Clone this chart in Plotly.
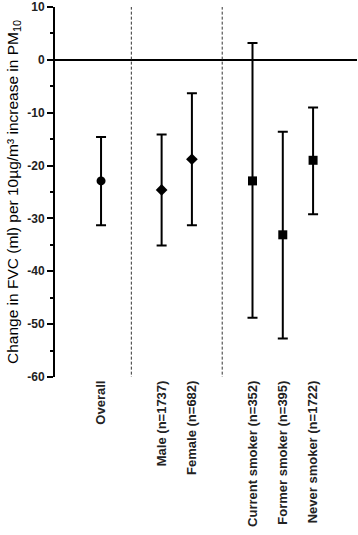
import plotly.graph_objects as go

categories = ["Overall", " ", "Male (n=1737)", "Female (n=682)", "  ",
              "Current smoker (n=352)", "Former smoker (n=395)", "Never smoker (n=1722)"]
groups = ["Overall", "Male (n=1737)", "Female (n=682)",
          "Current smoker (n=352)", "Former smoker (n=395)", "Never smoker (n=1722)"]
estimate = [-22.9, -24.6, -18.8, -22.9, -33.1, -19.0]
upper = [-14.6, -14.1, -6.3, 3.2, -13.6, -9.0]
lower = [-31.3, -35.1, -31.3, -48.8, -52.7, -29.2]
symbols = ["circle", "diamond", "diamond", "square", "square", "square"]
separators = [" ", "  "]
y_ticks = [-60, -50, -40, -30, -20, -10, 0, 10]
y_tick_labels = ["-60", "-50", "-40", "-30", "-20", "-10", "0", "10"]

fig = go.Figure()
fig.add_trace(go.Scatter(
    x=groups, y=estimate, mode="markers",
    marker=dict(symbol=symbols, size=9, color="black"),
    error_y=dict(type="data", symmetric=False,
                 array=[u - e for u, e in zip(upper, estimate)],
                 arrayminus=[e - l for e, l in zip(estimate, lower)],
                 color="black", thickness=2, width=5),
    showlegend=False, cliponaxis=False,
))

for s in separators:
    fig.add_shape(type="line", xref="x", yref="y", x0=s, x1=s, y0=-60.5, y1=10.5,
                  line=dict(color="#333333", width=1, dash="3px,2px"))

fig.update_layout(
    width=358, height=535,
    margin=dict(l=55, r=1, t=7, b=158),
    paper_bgcolor="white", plot_bgcolor="white",
    font=dict(family="Arial, Liberation Sans, sans-serif", color="black"),
    xaxis=dict(type="category", categoryorder="array", categoryarray=categories,
               tickmode="array", tickvals=groups, ticktext=groups,
               range=[-1.52, 8.45], showgrid=False, showline=False, zeroline=False,
               ticks="", tickangle=-90, automargin=False,
               tickfont=dict(size=13, weight="bold", color="#222222")),
    yaxis=dict(range=[-60, 10], tickmode="array", tickvals=y_ticks, ticktext=y_tick_labels,
               showgrid=False, showline=True, automargin=False,
               linecolor="black", linewidth=2, ticks="outside", ticklen=6,
               tickwidth=2, tickcolor="black",
               minor=dict(dtick=5, ticks="outside", ticklen=3, tickwidth=2, tickcolor="black"),
               zeroline=True, zerolinecolor="black", zerolinewidth=2,
               tickfont=dict(size=12, weight="bold", color="#222222"),
               title=dict(text="Change in FVC (ml) per 10µg/m³ increase in PM<sub>10</sub>",
                          font=dict(size=15.5), standoff=5)),
)

fig.write_html("out.html", config={"displayModeBar": False},
               post_script="document.body.style.margin='0';document.body.style.overflow='hidden';")
